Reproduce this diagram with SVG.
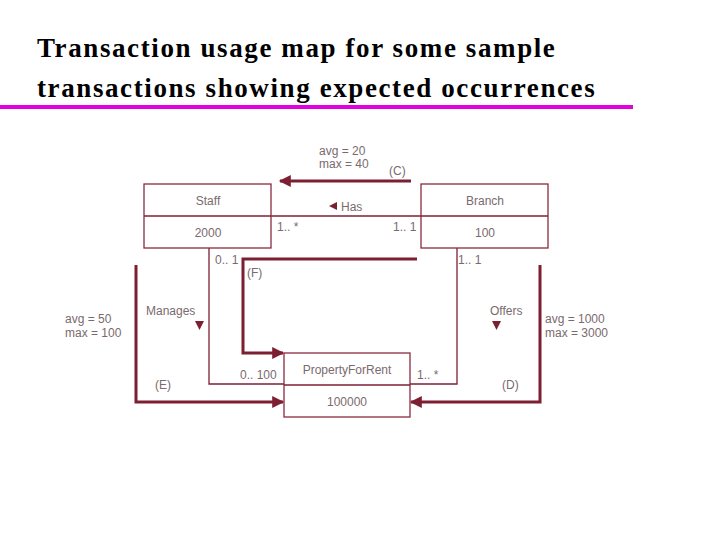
<svg xmlns="http://www.w3.org/2000/svg" width="720" height="540" viewBox="0 0 720 540">
<style>
.t{font-family:"Liberation Serif",serif;font-size:27px;font-weight:bold;letter-spacing:1.6px;fill:#000}
.s{font-family:"Liberation Sans",Arial,sans-serif;font-size:12px;fill:#7a6a6e}
.b{fill:#fff;stroke:#8b2b3f;stroke-width:1.3}
.th{fill:none;stroke:#7d1f33;stroke-width:1.3}
.k{fill:none;stroke:#7d1f33;stroke-width:3}
</style>
<defs><marker id="m" viewBox="0 0 10 10" refX="9" refY="5" markerWidth="14" markerHeight="12" orient="auto" markerUnits="userSpaceOnUse"><path d="M0,0L10,5L0,10z" fill="#7d1f33"/></marker></defs>
<rect width="720" height="540" fill="#fff"/>
<text class="t" x="37" y="57">Transaction usage map for some sample</text>
<text class="t" x="37" y="97">transactions showing expected occurrences</text>
<rect x="0" y="105" width="633" height="4" fill="#e000e0"/>
<g id="connectors">
<line class="th" x1="271" y1="216" x2="421" y2="216"/>
<polyline class="th" points="209,248 209,384 457,384 457,248"/>
<polyline class="k" points="411,181 280,181" marker-end="url(#m)"/>
<polyline class="k" points="417,259 243,259 243,353 283,353" marker-end="url(#m)"/>
<polyline class="k" points="136,265 136,402 283,402" marker-end="url(#m)"/>
<polyline class="k" points="540,265 540,402 411,402" marker-end="url(#m)"/>
<path d="M329,206l8,-4v8z" fill="#7d1f33"/>
<path d="M195,321h9l-4.5,9z" fill="#7d1f33"/>
<path d="M492,321h9l-4.5,9z" fill="#7d1f33"/>
</g>
<g id="staff"><rect class="b" x="144" y="184" width="127" height="64"/><line class="th" x1="144" y1="216" x2="271" y2="216"/><text class="s" x="208" y="205" text-anchor="middle">Staff</text><text class="s" x="208" y="237" text-anchor="middle">2000</text></g>
<g id="branch"><rect class="b" x="421" y="184" width="127" height="64"/><line class="th" x1="421" y1="216" x2="548" y2="216"/><text class="s" x="485" y="205" text-anchor="middle">Branch</text><text class="s" x="485" y="237" text-anchor="middle">100</text></g>
<g id="property"><rect class="b" x="284" y="353" width="126" height="64"/><line class="th" x1="284" y1="385" x2="410" y2="385"/><text class="s" x="347" y="374" text-anchor="middle">PropertyForRent</text><text class="s" x="347" y="406" text-anchor="middle">100000</text></g>
<g id="labels">
<text class="s" x="319" y="155">avg = 20</text><text class="s" x="319" y="168">max = 40</text><text class="s" x="389" y="175">(C)</text>
<text class="s" x="341" y="211">Has</text>
<text class="s" x="277" y="231">1.. *</text><text class="s" x="393" y="231">1.. 1</text>
<text class="s" x="215" y="264">0.. 1</text><text class="s" x="247" y="277">(F)</text><text class="s" x="458" y="264">1.. 1</text>
<text class="s" x="146" y="315">Manages</text><text class="s" x="490" y="315">Offers</text>
<text class="s" x="65" y="323">avg = 50</text><text class="s" x="65" y="337">max = 100</text>
<text class="s" x="545" y="323">avg = 1000</text><text class="s" x="545" y="337">max = 3000</text>
<text class="s" x="240" y="379">0.. 100</text><text class="s" x="417" y="379">1.. *</text>
<text class="s" x="155" y="389">(E)</text><text class="s" x="502" y="389">(D)</text>
</g>
</svg>
